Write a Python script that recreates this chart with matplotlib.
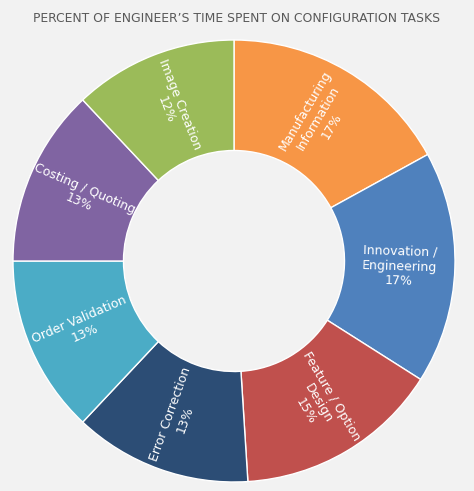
import numpy as np
import matplotlib
matplotlib.use("Agg")
import matplotlib.pyplot as plt

# data
tasks = ["Manufacturing\nInformation", "Innovation /\nEngineering", "Feature / Option\nDesign",
         "Error Correction", "Order Validation", "Costing / Quoting", "Image Creation"]
shares = [17, 17, 15, 13, 13, 13, 12]
colors = ["#F79646", "#4F81BD", "#C0504D", "#2C4D75", "#4BACC6", "#8064A2", "#9BBB59"]
title = "PERCENT OF ENGINEER\u2019S TIME SPENT ON CONFIGURATION TASKS"

W, H = 474, 491
fig = plt.figure(figsize=(W / 100, H / 100), dpi=100)
fig.patch.set_facecolor("#f2f2f2")

# center of donut ~ (234, 261) px, radius ~ 221 px
cx, cy, R = 234, 261, 221
ax = fig.add_axes([(cx - R) / W, (H - cy - R) / H, 2 * R / W, 2 * R / H])
ax.set_facecolor("#f2f2f2")

hole = 0.5
wedges, _ = ax.pie(shares, colors=colors, startangle=90, counterclock=False,
                   radius=1, wedgeprops=dict(width=1 - hole, edgecolor="white", linewidth=1))
ax.set_xlim(-1, 1)
ax.set_ylim(-1, 1)
ax.axis("off")

# radial labels inside each slice
rmid = (1 + hole) / 2
for w, name, v in zip(wedges, tasks, shares):
    mid = (w.theta1 + w.theta2) / 2
    x = rmid * np.cos(np.radians(mid))
    y = rmid * np.sin(np.radians(mid))
    rot = mid % 180
    if rot > 90:
        rot -= 180
    ax.text(x, y, f"{name}\n{v}%", ha="center", va="center", rotation=rot,
            rotation_mode="anchor", color="white", fontsize=9,
            multialignment="center", linespacing=1.2)

fig.text(0.5, 1 - 18 / H, title, ha="center", va="center", color="#595959", fontsize=8.9)

fig.savefig("out.png", dpi=100, facecolor=fig.get_facecolor())
